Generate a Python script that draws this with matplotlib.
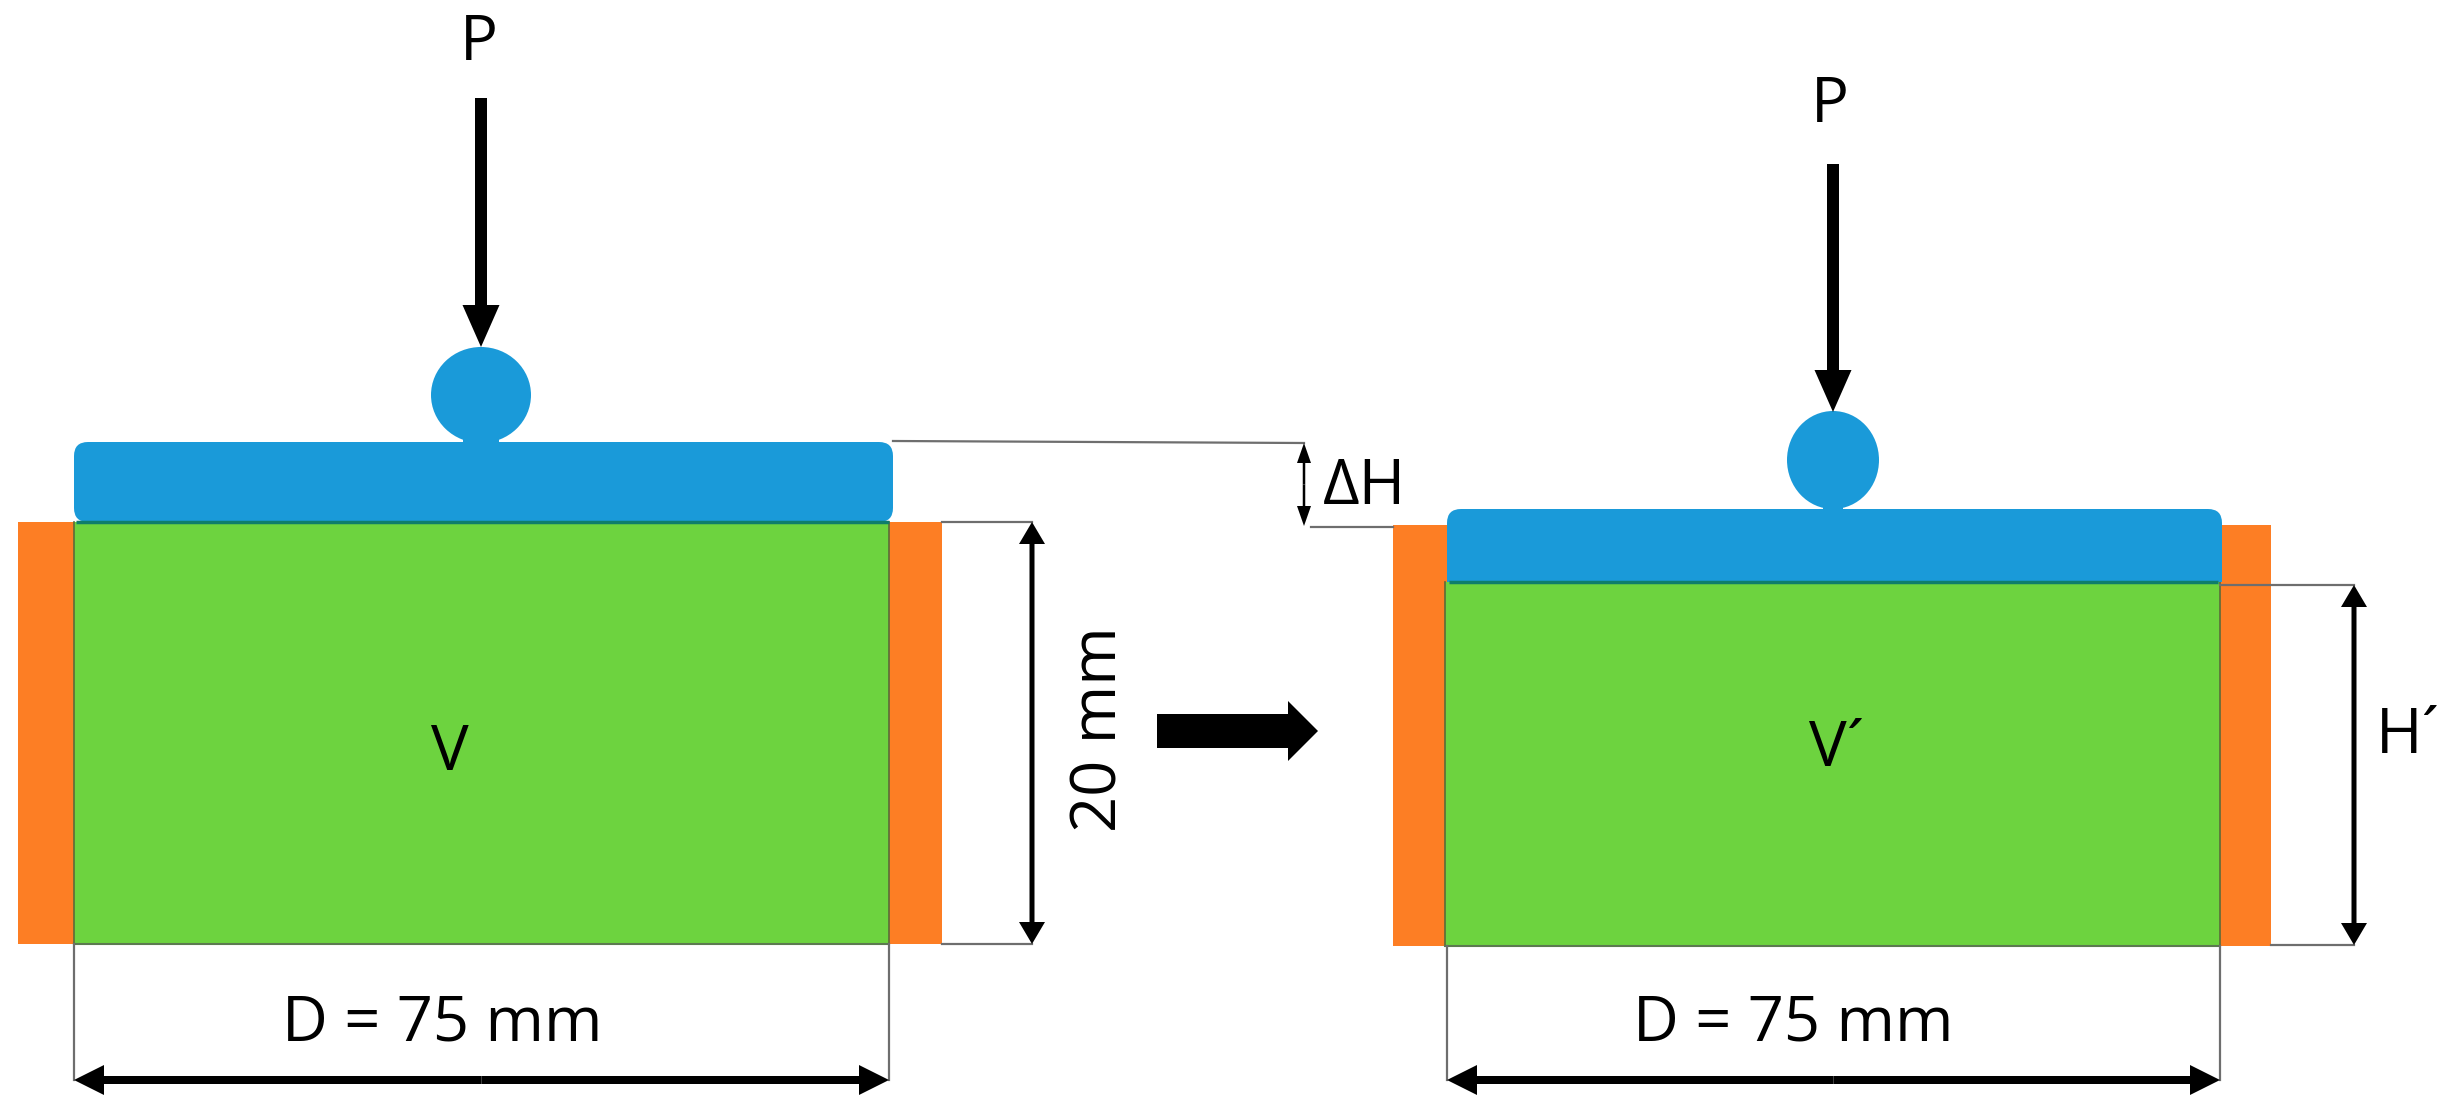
import matplotlib
matplotlib.use('Agg')
import matplotlib.pyplot as plt
from matplotlib.patches import Rectangle, Ellipse, FancyBboxPatch

plt.rcParams['font.family'] = ['Open Sans', 'DejaVu Sans']

W, H = 2448, 1113

# left / right specimen, pixel coords of the picture (x0, x1, y0, y1)
green_boxes = [(74, 889, 522, 944), (1445, 2220, 582, 946)]
orange_boxes = [(18, 74, 522, 944), (889, 942, 522, 944),
                (1393, 1447, 525, 946), (2220, 2271, 525, 946)]
blue_plates = [(74, 893, 442, 522), (1447, 2222, 509, 582)]
plate_feet = [(1447, 2222, 540, 582)]
# cx, cy, rx, ry, neck width
balls = [(481, 395, 50, 48, 36), (1833, 460, 46, 49, 20)]

# (x0, y0, x1, y1)
thin_lines = [(893, 441, 1304, 443), (1311, 527, 1393, 527),
              (942, 522, 1032, 522), (942, 944, 1032, 944),
              (74, 944, 74, 1080), (889, 944, 889, 1080),
              (1447, 946, 1447, 1080), (2220, 946, 2220, 1080),
              (2220, 585, 2354, 585), (2271, 945, 2354, 945)]
load_arrows = [(481, 98, 481, 347), (1833, 164, 1833, 412)]
horiz_dims = [(74, 1080, 889, 1080), (1447, 1080, 2220, 1080)]
vert_dims = [(1032, 522, 1032, 944), (2354, 585, 2354, 945)]
small_dim = (1304, 443, 1304, 526)

labels = ['P', 'P', 'V', 'V´', 'D = 75 mm', 'D = 75 mm', 'ΔH', 'H´', '20 mm']
label_x = [479, 1830, 450, 1837, 442, 1793, 1364, 2408, 1100]
label_y = [44, 106, 754, 750, 1024, 1024, 488, 737, 729]
label_rot = [0, 0, 0, 0, 0, 0, 0, 0, 90]

ORANGE = '#fd7e24'
GREEN = '#6dd33f'
BLUE = '#1a9ad9'
GREY = '#6e6e6e'

fig = plt.figure(figsize=(W / 100, H / 100), dpi=100)
ax = fig.add_axes([0, 0, 1, 1])
ax.set_xlim(0, W)
ax.set_ylim(H, 0)
ax.axis('off')


def box(b, color, z=1):
    ax.add_patch(Rectangle((b[0], b[2]), b[1] - b[0], b[3] - b[2], fc=color, ec='none', zorder=z))


def double_arrow(x0, y0, x1, y1, lw, hw, hl):
    mx, my = (x0 + x1) / 2, (y0 + y1) / 2
    for xa, ya in [(x0, y0), (x1, y1)]:
        ax.arrow(mx, my, xa - mx, ya - my, width=lw, head_width=hw, head_length=hl,
                 length_includes_head=True, fc='black', ec='none', zorder=5)


for b in orange_boxes:
    box(b, ORANGE)
for b in green_boxes:
    box(b, GREEN, 1.5)
    ax.plot([b[0], b[0]], [b[2], b[3]], color='#5c6b3a', lw=1.2, zorder=2)
    ax.plot([b[1], b[1]], [b[2], b[3]], color='#5c6b3a', lw=1.2, zorder=2)
    ax.plot([b[0], b[1]], [b[3], b[3]], color='#5c7a50', lw=1.5, zorder=2)

for cx, cy, rx, ry, neck in balls:
    ax.add_patch(Ellipse((cx, cy), 2 * rx, 2 * ry, fc=BLUE, ec='none', zorder=3))
    box((cx - neck / 2, cx + neck / 2, cy + ry - 10, cy + ry + 4), BLUE, 3)

for x0, x1, y0, y1 in blue_plates:
    r = 14
    ax.add_patch(FancyBboxPatch((x0 + r, y0 + r), x1 - x0 - 2 * r, y1 - y0 - 2 * r,
                                boxstyle='round,pad=%d,rounding_size=%d' % (r, r),
                                fc=BLUE, ec='none', zorder=3))
    ax.plot([x0 + 2, x1 - 4], [y1, y1], color='#0f7d6b', lw=2.5, zorder=4, solid_capstyle='butt')
for b in plate_feet:
    box(b, BLUE, 3)

for x0, y0, x1, y1 in thin_lines:
    ax.plot([x0, x1], [y0, y1], color=GREY, lw=1.6, zorder=2.5)

for x0, y0, x1, y1 in load_arrows:
    ax.arrow(x0, y0, x1 - x0, y1 - y0, width=12, head_width=37, head_length=42,
             length_includes_head=True, fc='black', ec='none', zorder=5)

for d in horiz_dims:
    double_arrow(*d, 8, 30, 30)
for d in vert_dims:
    double_arrow(*d, 5, 26, 22)
double_arrow(*small_dim, 2.5, 14, 20)

# big arrow between the two states
ax.arrow(1157, 731, 161, 0, width=34, head_width=60, head_length=30,
         length_includes_head=True, fc='black', ec='none', zorder=5)

for t, x, y, rot in zip(labels, label_x, label_y, label_rot):
    ax.text(x, y, t, fontsize=45.5, color='black', ha='center', va='center',
            rotation=rot, zorder=6)

fig.savefig('out.png', dpi=100, facecolor='white')
